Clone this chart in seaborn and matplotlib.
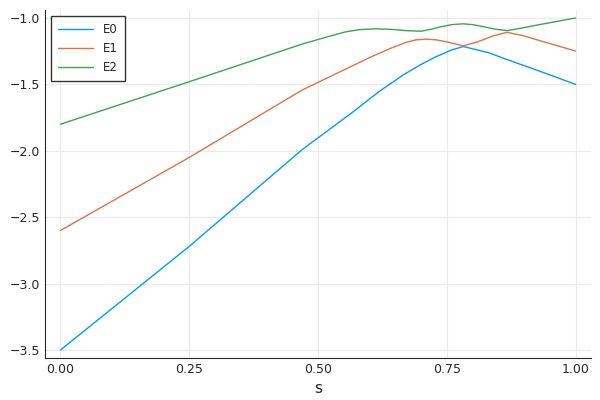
import matplotlib
matplotlib.use('Agg')
import matplotlib.pyplot as plt
import pandas as pd
import seaborn as sns

sns.set_style('white')

s0 = [0.0, 0.25, 0.469, 0.567, 0.62, 0.665, 0.70, 0.73, 0.76, 0.782, 0.83, 0.867, 0.93, 1.0]
e0 = [-3.5, -2.72, -1.992, -1.71, -1.55, -1.43, -1.35, -1.29, -1.24, -1.215, -1.26, -1.313, -1.40, -1.5]

s1 = [0.0, 0.25, 0.469, 0.599, 0.64, 0.67, 0.69, 0.71, 0.73, 0.75, 0.782, 0.81, 0.84, 0.867, 0.90, 0.93, 1.0]
e1 = [-2.6, -2.05, -1.543, -1.30, -1.23, -1.185, -1.165, -1.159, -1.165, -1.18, -1.21, -1.18, -1.135, -1.108, -1.135, -1.17, -1.249]

s2 = [0.0, 0.25, 0.469, 0.52, 0.553, 0.58, 0.609, 0.64, 0.67, 0.70, 0.72, 0.74, 0.76, 0.782, 0.80, 0.82, 0.845, 0.867, 0.89, 0.93, 1.0]
e2 = [-1.8, -1.48, -1.197, -1.14, -1.105, -1.088, -1.082, -1.085, -1.095, -1.10, -1.085, -1.065, -1.05, -1.044, -1.05, -1.065, -1.085, -1.095, -1.08, -1.05, -1.0]

colors = ['#009AFA', '#E36F47', '#3EA44E']

df = pd.concat([
    pd.DataFrame({'s': s0, 'E': e0, 'name': 'E0'}),
    pd.DataFrame({'s': s1, 'E': e1, 'name': 'E1'}),
    pd.DataFrame({'s': s2, 'E': e2, 'name': 'E2'}),
])

fig, ax = plt.subplots(figsize=(6, 4), dpi=100)
sns.lineplot(data=df, x='s', y='E', hue='name', palette=colors, sort=True,
             linewidth=1, ax=ax)
ax.set_xlim(-0.03, 1.03)
ax.set_ylim(-3.56, -0.94)
ax.set_xticks([0, 0.25, 0.5, 0.75, 1.0])
ax.set_xticklabels(['0.00', '0.25', '0.50', '0.75', '1.00'])
ax.set_yticks([-3.5, -3.0, -2.5, -2.0, -1.5, -1.0])
ax.set_yticklabels(['\u22123.5', '\u22123.0', '\u22122.5', '\u22122.0', '\u22121.5', '\u22121.0'])
ax.grid(True, color='#ebebeb', linewidth=0.8)
for side in ['top', 'right']:
    ax.spines[side].set_visible(False)
ax.tick_params(labelsize=9, length=3, direction='in')
ax.set_xlabel('s', fontsize=11)
ax.set_ylabel('')
leg = ax.legend(loc='upper left', fontsize=8.5, frameon=True, fancybox=False,
                edgecolor='black', handlelength=3, borderpad=0.6)
leg.set_title(None)
plt.subplots_adjust(left=0.075, right=0.985, top=0.975, bottom=0.105)
plt.savefig('out.png')
